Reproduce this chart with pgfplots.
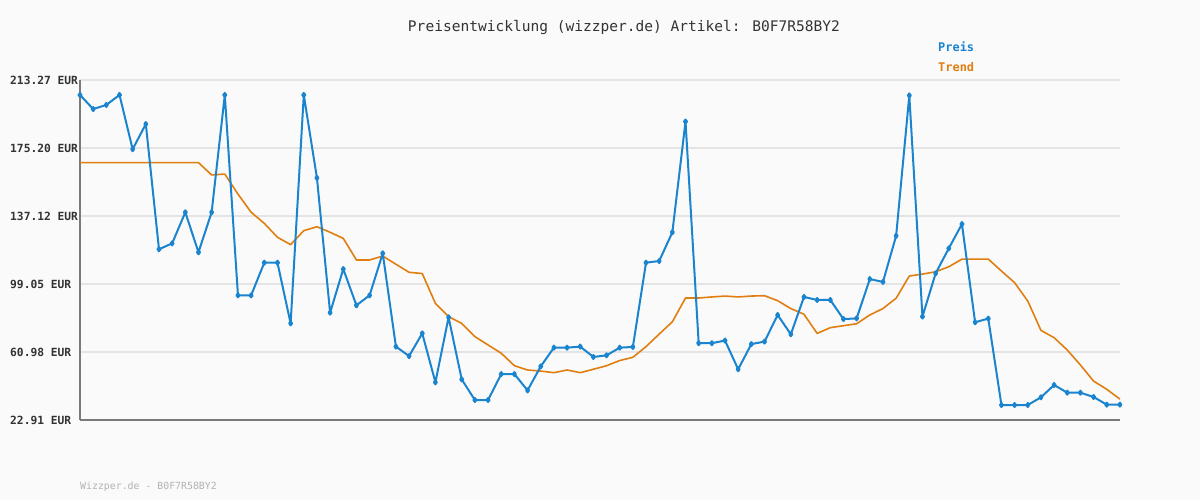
\documentclass[border=0pt]{standalone}
\usepackage{pgfplots}
\pgfplotsset{compat=1.18}
\usepackage{pgfplotstable}
\usepackage{fontspec}
\setmainfont{DejaVu Sans Mono}
\definecolor{bgc}{HTML}{FAFAFA}
\definecolor{preis}{HTML}{1A84CF}
\definecolor{trend}{HTML}{E07F10}
\definecolor{gridc}{HTML}{E4E4E4}
\definecolor{axc}{HTML}{7A7A7A}
\definecolor{txt}{HTML}{333333}
\pgfplotstableread{
x p t
0 204.9 167.0
1 197.0 167.0
2 199.3 167.0
3 204.9 167.0
4 174.5 167.0
5 188.6 167.0
6 118.5 167.0
7 121.8 167.0
8 139.2 167.0
9 116.8 167.0
10 139.2 160.1
11 204.9 160.6
12 92.7 149.4
13 92.7 139.2
14 111.0 133.0
15 111.0 125.2
16 77.0 121.1
17 204.9 128.9
18 158.4 131.1
19 83.0 128.0
20 107.4 124.6
21 87.1 112.5
22 92.7 112.5
23 116.2 114.7
24 64.0 110.1
25 58.7 105.6
26 71.4 104.9
27 44.0 88.2
28 80.4 80.8
29 45.6 77.0
30 34.1 69.6
31 34.1 64.9
32 48.6 60.3
33 48.6 53.3
34 39.5 50.9
35 52.9 50.3
36 63.4 49.4
37 63.4 50.9
38 64.0 49.4
39 58.2 51.3
40 59.1 53.3
41 63.4 56.2
42 63.8 58.0
43 111.0 64.0
44 111.9 71.0
45 128.0 77.9
46 190.0 91.2
47 65.9 91.2
48 65.9 91.8
49 67.4 92.3
50 51.3 91.8
51 65.4 92.3
52 66.8 92.5
53 81.7 89.7
54 70.9 85.3
55 91.8 82.1
56 90.1 71.4
57 90.1 74.6
58 79.4 75.7
59 79.8 76.8
60 101.8 81.7
61 100.2 85.3
62 126.0 91.1
63 204.6 103.5
64 80.8 104.6
65 105.0 105.9
66 119.0 108.7
67 132.6 113.0
68 77.6 113.0
69 79.7 113.0
70 31.3 106.3
71 31.3 99.8
72 31.3 89.5
73 35.6 73.1
74 42.5 69.0
75 38.2 62.1
76 38.2 53.7
77 35.8 44.7
78 31.5 40.1
79 31.5 34.6
}\datatable
\begin{document}
\begin{tikzpicture}[x=1bp,y=1bp]
\fill[bgc] (0,0) rectangle (1200,500);
\useasboundingbox (0,0) rectangle (1200,500);
\begin{axis}[
  at={(80bp,80bp)}, anchor=south west,
  scale only axis, width=1040bp, height=340bp,
  xmin=0, xmax=79, ymin=22.91, ymax=213.27,
  axis x line*=bottom, axis y line*=left,
  axis line style={-, color=axc, line width=2.2bp},
  xtick=\empty,
  ytick={22.91,60.98,99.05,137.12,175.20,213.27},
  yticklabels={22.91 EUR,60.98 EUR,99.05 EUR,137.12 EUR,175.20 EUR,213.27 EUR},
  yticklabel style={anchor=west, xshift=-70bp, inner sep=0pt, font=\fontsize{11.3}{12}\selectfont\bfseries, text=txt},
  major tick length=0pt,
  ymajorgrids, grid style={gridc, line width=2bp},
  /pgf/number format/assume math mode=true,
  clip=false,
]
\addplot[trend, line width=1.6bp, line join=round] table[x=x, y=t] {\datatable};
\addplot[preis, line width=2bp, line join=round, mark=diamond*, mark size=2bp, mark options={solid, fill=preis}] table[x=x, y=p] {\datatable};
\end{axis}
\node[text=txt, font=\fontsize{14.6}{16}\selectfont] at (624,472) {Preisentwicklung (wizzper.de) Artikel: B0F7R58BY2};
\node[text=preis, font=\fontsize{12}{13}\selectfont\bfseries, anchor=west, inner sep=0pt] at (938,453) {Preis};
\node[text=trend, font=\fontsize{12}{13}\selectfont\bfseries, anchor=west, inner sep=0pt] at (938,433) {Trend};
\node[text=gray!60, font=\fontsize{9.9}{11}\selectfont, anchor=west, inner sep=0pt] at (80,13) {Wizzper.de - B0F7R58BY2};
\end{tikzpicture}
\end{document}
